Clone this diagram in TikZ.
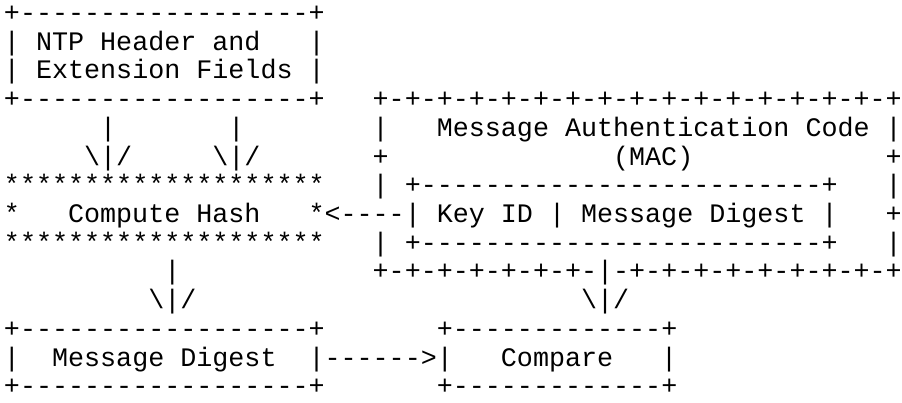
\documentclass[tikz,border=0pt]{standalone}
\usepackage{fontspec}
\setmonofont{Liberation Mono}
\tikzset{
  txt/.style={anchor=base west, inner sep=0pt, outer sep=0pt, text depth=0pt,
    font=\ttfamily\fontsize{26.72pt}{29pt}\selectfont, text=black}
}
\newcommand\seg[4]{\node[txt] (#1) at ({(4.0+16.03*#2)*1pt},{-(21.6+28.7*#3)*1pt}) {#4};}
\newcommand\bs{\textbackslash}
\begin{document}
\begin{tikzpicture}
\fill[white] (0pt,0pt) rectangle (902pt,-403pt);
\useasboundingbox (0pt,0pt) rectangle (902pt,-403pt);
% row 0-3: NTP header box
\seg{bta}{0}{0}{+------------------+}
\seg{bla}{0}{1}{|}
\seg{ntpa}{2}{1}{NTP Header and}
\seg{bra}{19}{1}{|}
\seg{blb}{0}{2}{|}
\seg{ntpb}{2}{2}{Extension Fields}
\seg{brb}{19}{2}{|}
\seg{bba}{0}{3}{+------------------+}
\seg{mact}{23}{3}{+-+-+-+-+-+-+-+-+-+-+-+-+-+-+-+-+}
% row 4
\seg{aa}{6}{4}{|}
\seg{ab}{14}{4}{|}
\seg{macla}{23}{4}{|}
\seg{maca}{27}{4}{Message Authentication Code}
\seg{macra}{55}{4}{|}
% row 5
\seg{ha}{5}{5}{\bs|/}
\seg{hb}{13}{5}{\bs|/}
\seg{maclb}{23}{5}{+}
\seg{macb}{38}{5}{(MAC)}
\seg{macrb}{55}{5}{+}
% row 6
\seg{sa}{0}{6}{********************}
\seg{maclc}{23}{6}{|}
\seg{kt}{25}{6}{+-------------------------+}
\seg{macrc}{55}{6}{|}
% row 7
\seg{sbl}{0}{7}{*}
\seg{ch}{4}{7}{Compute Hash}
\seg{sbr}{19}{7}{*}
\seg{arra}{20}{7}{<----}
\seg{kl}{25}{7}{|}
\seg{kid}{27}{7}{Key ID}
\seg{ksep}{34}{7}{|}
\seg{mda}{36}{7}{Message Digest}
\seg{kr}{51}{7}{|}
\seg{macrd}{55}{7}{+}
% row 8
\seg{sc}{0}{8}{********************}
\seg{macle}{23}{8}{|}
\seg{kb}{25}{8}{+-------------------------+}
\seg{macre}{55}{8}{|}
% row 9
\seg{ac}{10}{9}{|}
\seg{macbot}{23}{9}{+-+-+-+-+-+-+-|-+-+-+-+-+-+-+-+-+}
% row 10
\seg{hc}{9}{10}{\bs|/}
\seg{hd}{36}{10}{\bs|/}
% row 11-13
\seg{btb}{0}{11}{+------------------+}
\seg{ctop}{27}{11}{+-------------+}
\seg{blc}{0}{12}{|}
\seg{mdb}{3}{12}{Message Digest}
\seg{brc}{19}{12}{|}
\seg{arrb}{20}{12}{------>}
\seg{cl}{27}{12}{|}
\seg{cmp}{31}{12}{Compare}
\seg{cr}{41}{12}{|}
\seg{bbb}{0}{13}{+------------------+}
\seg{cbot}{27}{13}{+-------------+}
\end{tikzpicture}
\end{document}
